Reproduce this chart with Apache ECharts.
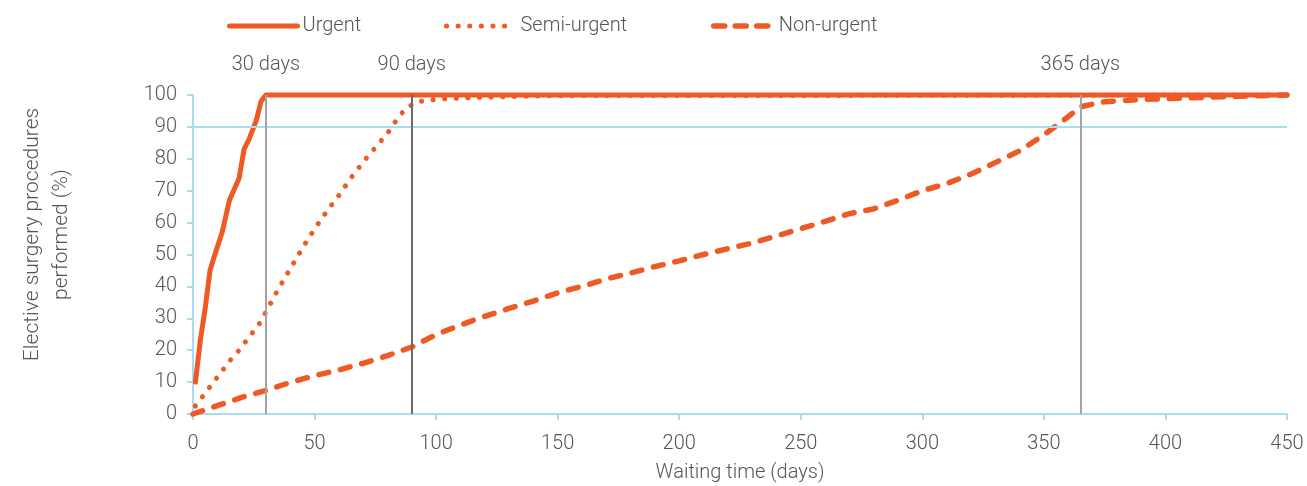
<!DOCTYPE html>
<html>
<head>
<meta charset="utf-8">
<title>Elective surgery waiting times</title>
<script src="https://cdn.jsdelivr.net/npm/echarts@6/dist/echarts.min.js"></script>
<style>
  html, body { margin: 0; padding: 0; background: #fff; }
  #chart { width: 1307px; height: 486px; }
</style>
</head>
<body>
<div id="chart"></div>
<script>
// values (days waited, % performed)
const urgentDays = [1, 3, 5, 7, 9, 12, 15, 19, 21, 23, 26, 28, 30, 450];
const urgentPct = [10, 23, 33, 45, 50, 57, 67, 74, 83, 86, 92, 98, 100, 100];

const semiDays = [1, 4, 7, 10, 13, 16, 19, 22, 25, 28, 30, 35, 40, 45, 50, 55, 60, 65, 70, 75, 80, 85, 88, 92, 97, 101, 115, 130, 150, 450];
const semiPct = [2.5, 5.5, 8.5, 11.5, 14.5, 17.5, 20, 23, 26, 29, 32, 39, 45.5, 52, 58, 63.5, 68.5, 74, 79, 83.5, 88, 93.6, 96, 97.8, 98.4, 98.7, 99.2, 99.5, 99.8, 100];

const nonDays = [0, 10, 20, 30, 40, 50, 60, 70, 80, 90, 100, 110, 120, 130, 140, 150, 160, 170, 180, 190, 200, 210, 220, 230, 240, 250, 260, 270, 280, 290, 300, 310, 320, 330, 340, 350, 360, 365, 375, 390, 410, 430, 450];
const nonPct = [0, 2.6, 5.2, 7.4, 9.9, 12, 13.8, 15.9, 18.3, 21, 24.9, 27.9, 30.6, 33.1, 35.4, 38, 40, 42.3, 44.2, 46.2, 48, 50, 51.8, 53.6, 55.8, 58.1, 60.4, 62.8, 64.3, 67, 70, 72.2, 75.2, 78.8, 82.5, 87.5, 93.2, 96.3, 97.9, 98.6, 99.1, 99.6, 100];

const targetDays = [30, 90, 365];
const targetLabels = ['30 days', '90 days', '365 days'];
const targetColors = ['#a3a3a5', '#6b6b6d', '#a3a3a5'];

const ORANGE = '#ef5a24';
const TEXT = '#555555';
const AXIS_BLUE = '#a9dcef';
const FONT = 'Roboto';
const FS = 20;

const STYLE_URGENT = { width: 5, type: 'solid', cap: 'round', join: 'round' };
const STYLE_SEMI = { width: 5, type: [0.1, 11.5], cap: 'round', join: 'round' };
const STYLE_NON = { width: 5.5, type: [10, 12], cap: 'round', join: 'round' };

function pairs(xs, ys) {
  return xs.map((x, i) => [x, ys[i]]);
}

function lineSeries(name, xs, ys, lineStyle) {
  return {
    name,
    type: 'line',
    data: pairs(xs, ys),
    symbol: 'none',
    clip: false,
    z: 3,
    lineStyle: Object.assign({ color: ORANGE }, lineStyle),
    itemStyle: { color: ORANGE },
  };
}

function legendFor(name, left, width, pad, lineStyle) {
  return {
    data: [name],
    left,
    top: 11,
    itemWidth: width,
    itemHeight: 20,
    itemStyle: { opacity: 0 },
    lineStyle: Object.assign({ color: ORANGE }, lineStyle),
    textStyle: { color: TEXT, fontSize: FS, fontFamily: FONT, fontWeight: 300, padding: [0, 0, 0, pad] },
  };
}

const chart = echarts.init(document.getElementById('chart'), null, { renderer: 'canvas' });

chart.setOption({
  animation: false,
  textStyle: { fontFamily: FONT },
  grid: { left: 193, right: 20, top: 95, bottom: 72, outerBoundsMode: 'none' },
  legend: [
    legendFor('Urgent', 222, 68, 0, STYLE_URGENT),
    legendFor('Semi-urgent', 439, 64, 5, STYLE_SEMI),
    legendFor('Non-urgent', 706, 54, 6, { width: 5.5, type: [11, 10.5], cap: 'round' }),
  ],
  xAxis: {
    type: 'value',
    min: 0,
    max: 450,
    interval: 50,
    name: 'Waiting time (days)',
    nameLocation: 'middle',
    nameGap: 49,
    nameTextStyle: { color: TEXT, fontSize: FS, fontFamily: FONT, fontWeight: 300 },
    axisLine: { show: true, lineStyle: { color: AXIS_BLUE, width: 2 } },
    axisTick: { show: true, length: 6, lineStyle: { color: AXIS_BLUE, width: 2 } },
    axisLabel: { color: TEXT, fontSize: FS, fontFamily: FONT, fontWeight: 300, margin: 20 },
    splitLine: { show: false },
  },
  yAxis: {
    type: 'value',
    min: 0,
    max: 100,
    interval: 10,
    name: 'Elective surgery procedures\nperformed (%)',
    nameLocation: 'middle',
    nameRotate: 90,
    nameGap: 117,
    nameTextStyle: {
      color: TEXT, fontSize: FS + 1, fontFamily: FONT, fontWeight: 300,
      lineHeight: 29, padding: [0, 0, 0, 40],
    },
    axisLine: { show: true, lineStyle: { color: AXIS_BLUE, width: 2 } },
    axisTick: { show: true, length: 6, lineStyle: { color: AXIS_BLUE, width: 2 } },
    axisLabel: { color: TEXT, fontSize: FS, fontFamily: FONT, fontWeight: 300, margin: 16 },
    splitLine: { show: false },
  },
  series: [
    {
      // reference lines only: 90% level and the target days
      type: 'line',
      data: [],
      z: 1,
      silent: true,
      markLine: {
        symbol: 'none',
        silent: true,
        animation: false,
        data: [
          {
            yAxis: 90,
            lineStyle: { color: AXIS_BLUE, type: 'solid', width: 2 },
            label: { show: false },
          },
        ].concat(targetDays.map((d, i) => ({
          xAxis: d,
          lineStyle: { color: targetColors[i], type: 'solid', width: 2 },
          label: {
            show: true,
            position: 'end',
            distance: 20,
            formatter: targetLabels[i],
            color: TEXT,
            fontSize: FS,
            fontFamily: FONT,
            fontWeight: 300,
          },
        }))),
      },
    },
    lineSeries('Non-urgent', nonDays, nonPct, STYLE_NON),
    lineSeries('Semi-urgent', semiDays, semiPct, STYLE_SEMI),
    lineSeries('Urgent', urgentDays, urgentPct, STYLE_URGENT),
  ],
});
</script>
</body>
</html>
